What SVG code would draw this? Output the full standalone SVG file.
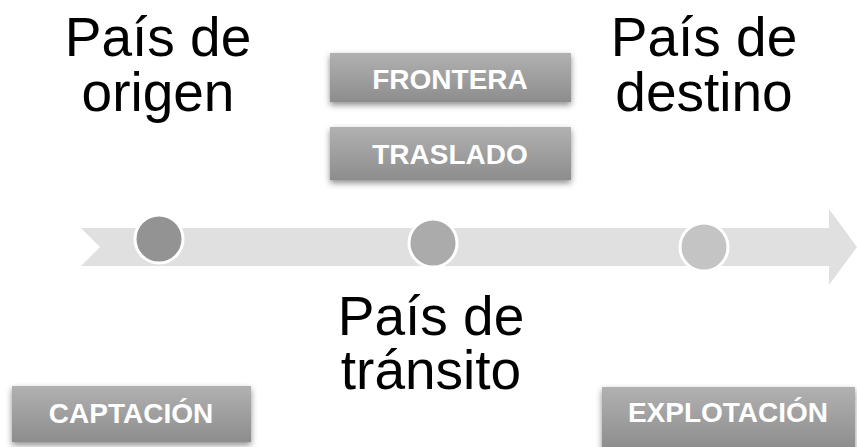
<svg xmlns="http://www.w3.org/2000/svg" width="857" height="447" viewBox="0 0 857 447">
<defs>
<linearGradient id="boxg" x1="0" y1="0" x2="0" y2="1">
<stop offset="0" stop-color="#b1b1b1"/>
<stop offset="1" stop-color="#8d8d8d"/>
</linearGradient>
<filter id="sh" x="-10%" y="-20%" width="120%" height="160%">
<feDropShadow dx="0" dy="3" stdDeviation="3" flood-color="#000" flood-opacity="0.45"/>
</filter>
</defs>
<style>
.big{font-family:"Liberation Sans",Arial,sans-serif;font-size:55px;fill:#000;text-anchor:middle}
.box{fill:url(#boxg);filter:url(#sh)}
.bt{font-family:"Liberation Sans",Arial,sans-serif;font-size:28px;font-weight:bold;fill:#fff;text-anchor:middle}
.dot{stroke:#fff;stroke-width:3}
</style>
<rect width="857" height="447" fill="#fff"/>
<g id="timeline">
<polygon points="81,228 829,228 829,209 857,247 829,285 829,266 81,266 100,247" fill="#e0e0e0"/>
</g>
<g id="dot-origen"><circle class="dot" cx="159" cy="239" r="24" fill="#939393"/></g>
<g id="dot-transito"><circle class="dot" cx="433" cy="243" r="24" fill="#ababab"/></g>
<g id="dot-destino"><circle class="dot" cx="704" cy="247" r="24" fill="#c4c4c4"/></g>
<g id="label-origen"><text class="big" x="158" y="56">País de</text><text class="big" x="158" y="111">origen</text></g>
<g id="label-destino"><text class="big" x="704" y="56">País de</text><text class="big" x="704" y="111">destino</text></g>
<g id="label-transito"><text class="big" x="431" y="335">País de</text><text class="big" x="431" y="389">tránsito</text></g>
<g id="frontera"><rect class="box" x="330" y="53" width="241" height="49"/><text class="bt" x="450" y="89">FRONTERA</text></g>
<g id="traslado"><rect class="box" x="330" y="127" width="241" height="53"/><text class="bt" x="450" y="164">TRASLADO</text></g>
<g id="captacion"><rect class="box" x="12" y="386" width="239" height="56"/><text class="bt" x="131" y="423">CAPTACIÓN</text></g>
<g id="explotacion"><rect class="box" x="602" y="387" width="253" height="62"/><text class="bt" x="728" y="422">EXPLOTACIÓN</text></g>
</svg>
